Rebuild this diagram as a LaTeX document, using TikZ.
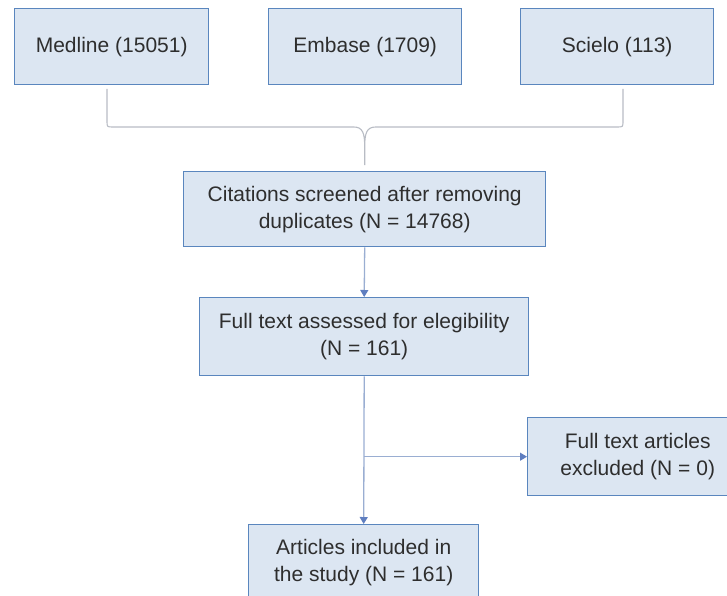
\documentclass[tikz,border=0pt]{standalone}
\usepackage{fontspec}
\setmainfont{Liberation Sans}
\usetikzlibrary{arrows.meta,calc}
\definecolor{boxfill}{HTML}{DCE6F2}
\definecolor{boxline}{HTML}{5A86BE}
\definecolor{conn}{HTML}{9AAED2}
\definecolor{bracec}{HTML}{B8BCC4}
\definecolor{tipc}{HTML}{5F7EC0}
\definecolor{txt}{HTML}{2E2E2E}
\begin{document}
\begin{tikzpicture}[x=1pt,y=-1pt,
  box/.style={draw=boxline,fill=boxfill,line width=1.4pt,align=center,text=txt,
    font=\fontsize{21}{27}\selectfont,inner sep=0pt,anchor=north west},
  conline/.style={draw=conn,line width=1.3pt},
  arr/.style={conline,-{Triangle[length=7pt,width=8pt,fill=tipc,color=tipc]}}]
\useasboundingbox (0,0) rectangle (727,596);
\begin{scope}
\clip (0,0) rectangle (727,596);
\node[box,minimum width=194pt,minimum height=76pt] (med) at (14,8) {Medline (15051)};
\node[box,minimum width=193pt,minimum height=76pt] (emb) at (268,8) {Embase (1709)};
\node[box,minimum width=193pt,minimum height=76pt] (sci) at (520,8) {Scielo (113)};
\node[box,minimum width=362pt,minimum height=75pt] (cit) at (183,171) {Citations screened after removing\\duplicates (N = 14768)};
\node[box,minimum width=329pt,minimum height=78pt] (full) at (199,297) {Full text assessed for elegibility\\(N = 161)};
\node[box,minimum width=220pt,minimum height=78pt] (exc) at (527,417) {Full text articles\\excluded (N = 0)};
\node[box,minimum width=230pt,minimum height=90pt] (art) at (248,524) {};
\node[font=\fontsize{21}{27}\selectfont,text=txt,align=center,anchor=north,inner sep=0pt] (arttxt) at ($(art.north)+(0,15)$) {Articles included in\\the study (N = 161)};
\end{scope}
% brace
\coordinate (bl) at (107,89);
\coordinate (br) at (623,89);
\coordinate (bc) at ($(cit.north)+(0,-6)$);
\draw[draw=bracec,line width=1.1pt]
  (bl) -- (107,121) .. controls (107,127) .. (113,127)
  -- ($(bc|-bl)+(-11,38)$) .. controls ($(bc|-bl)+(-2,38)$) and ($(bc|-bl)+(0,44)$) .. ($(bc|-bl)+(0,58)$) -- (bc)
  (br) -- (623,121) .. controls (623,127) .. (617,127)
  -- ($(bc|-bl)+(11,38)$) .. controls ($(bc|-bl)+(2,38)$) and ($(bc|-bl)+(0,44)$) .. ($(bc|-bl)+(0,58)$);
\draw[arr] (cit.south) -- (full.north);
\coordinate (split) at (full.south |- exc.west);
\draw[arr] (full.south) -- (art.north);
\draw[arr] (split) -- (exc.west);
\end{tikzpicture}
\end{document}
